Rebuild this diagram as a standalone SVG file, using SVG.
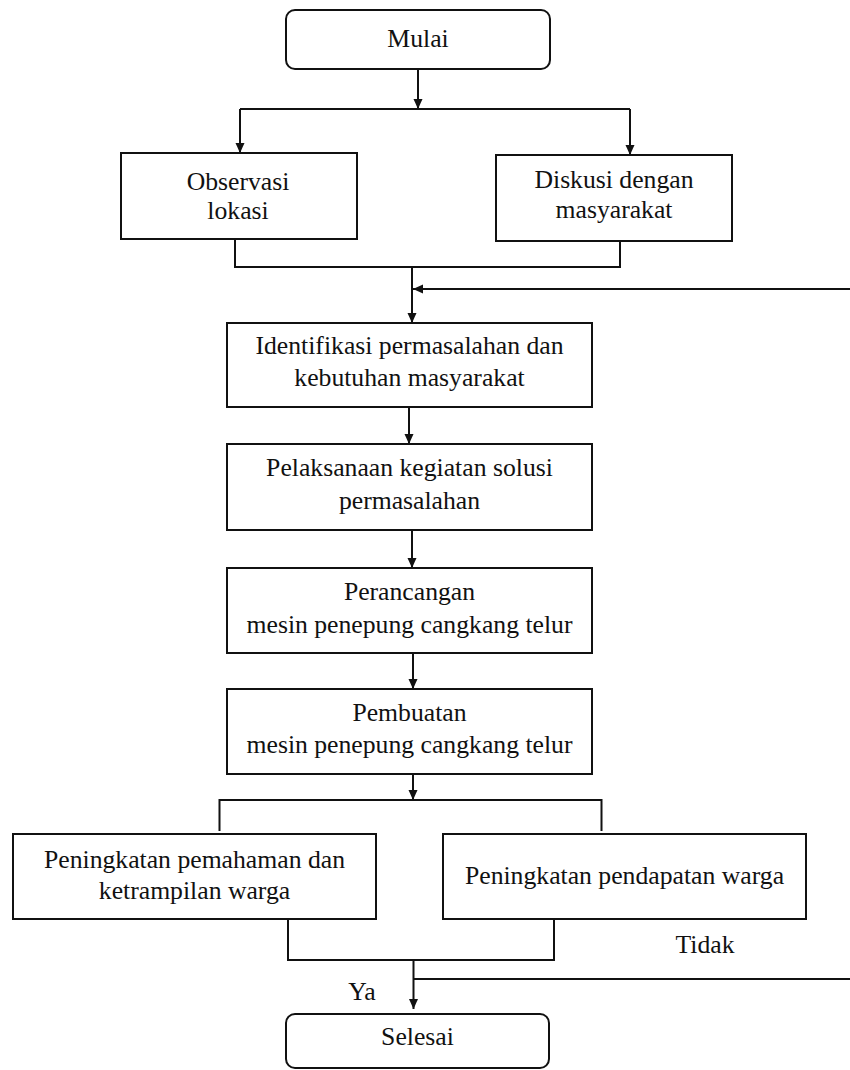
<svg xmlns="http://www.w3.org/2000/svg" width="850" height="1070" viewBox="0 0 850 1070">
<style>
.box{fill:#fff;stroke:#111;stroke-width:2}
.ln{fill:none;stroke:#111;stroke-width:2}
.t{font-family:"Liberation Serif","Times New Roman",serif;font-size:25.7px;fill:#111;text-anchor:middle}
</style>
<defs>
<marker id="ah" viewBox="0 0 10 10" refX="10" refY="5" markerWidth="10" markerHeight="10" markerUnits="userSpaceOnUse" orient="auto">
<path d="M0,0.5 L10,5 L0,9.5 Z" fill="#111"/>
</marker>
</defs>
<rect width="850" height="1070" fill="#fff"/>
<g id="connectors">
<line class="ln" x1="418" y1="69" x2="418" y2="109" marker-end="url(#ah)"/>
<line class="ln" x1="240" y1="109" x2="630" y2="109"/>
<line class="ln" x1="240" y1="109" x2="240" y2="153" marker-end="url(#ah)"/>
<line class="ln" x1="630" y1="109" x2="630" y2="155" marker-end="url(#ah)"/>
<polyline class="ln" points="235,239 235,267 620,267 620,241"/>
<line class="ln" x1="412" y1="267" x2="412" y2="323" marker-end="url(#ah)"/>
<line class="ln" x1="850" y1="289" x2="413" y2="289" marker-end="url(#ah)"/>
<line class="ln" x1="409" y1="407" x2="409" y2="444" marker-end="url(#ah)"/>
<line class="ln" x1="412" y1="530" x2="412" y2="568" marker-end="url(#ah)"/>
<line class="ln" x1="413" y1="653" x2="413" y2="689" marker-end="url(#ah)"/>
<line class="ln" x1="413" y1="774" x2="413" y2="800" marker-end="url(#ah)"/>
<polyline class="ln" points="219.5,831 219.5,800 601.5,800 601.5,831"/>
<polyline class="ln" points="288,919 288,960 554,960 554,919"/>
<line class="ln" x1="413.5" y1="960" x2="413.5" y2="1009" marker-end="url(#ah)"/>
<line class="ln" x1="413.5" y1="979" x2="850" y2="979"/>
<text class="t" x="705" y="953">Tidak</text>
<text class="t" x="362" y="1000">Ya</text>
</g>
<g id="mulai">
<rect class="box" x="286" y="10" width="264" height="59" rx="9"/>
<text class="t" x="418" y="47">Mulai</text>
</g>
<g id="observasi">
<rect class="box" x="121" y="153" width="236" height="86"/>
<text class="t" x="238" y="190">Observasi</text>
<text class="t" x="238" y="219">lokasi</text>
</g>
<g id="diskusi">
<rect class="box" x="496" y="155" width="236" height="86"/>
<text class="t" x="614" y="188">Diskusi dengan</text>
<text class="t" x="614" y="218">masyarakat</text>
</g>
<g id="identifikasi">
<rect class="box" x="227" y="323" width="365" height="84"/>
<text class="t" x="409.5" y="354">Identifikasi permasalahan dan</text>
<text class="t" x="409.5" y="386">kebutuhan masyarakat</text>
</g>
<g id="pelaksanaan">
<rect class="box" x="227" y="444" width="365" height="86"/>
<text class="t" x="409.5" y="476">Pelaksanaan kegiatan solusi</text>
<text class="t" x="409.5" y="509">permasalahan</text>
</g>
<g id="perancangan">
<rect class="box" x="227" y="568" width="365" height="85"/>
<text class="t" x="409.5" y="600">Perancangan</text>
<text class="t" x="409.5" y="633">mesin penepung cangkang telur</text>
</g>
<g id="pembuatan">
<rect class="box" x="227" y="689" width="365" height="85"/>
<text class="t" x="409.5" y="721">Pembuatan</text>
<text class="t" x="409.5" y="753">mesin penepung cangkang telur</text>
</g>
<g id="pemahaman">
<rect class="box" x="13" y="834" width="363" height="85"/>
<text class="t" x="194.5" y="868">Peningkatan pemahaman dan</text>
<text class="t" x="194.5" y="899">ketrampilan warga</text>
</g>
<g id="pendapatan">
<rect class="box" x="443" y="834" width="363" height="85"/>
<text class="t" x="624.5" y="884">Peningkatan pendapatan warga</text>
</g>
<g id="selesai">
<rect class="box" x="286" y="1014" width="263" height="54" rx="9"/>
<text class="t" x="417.5" y="1045">Selesai</text>
</g>
</svg>
